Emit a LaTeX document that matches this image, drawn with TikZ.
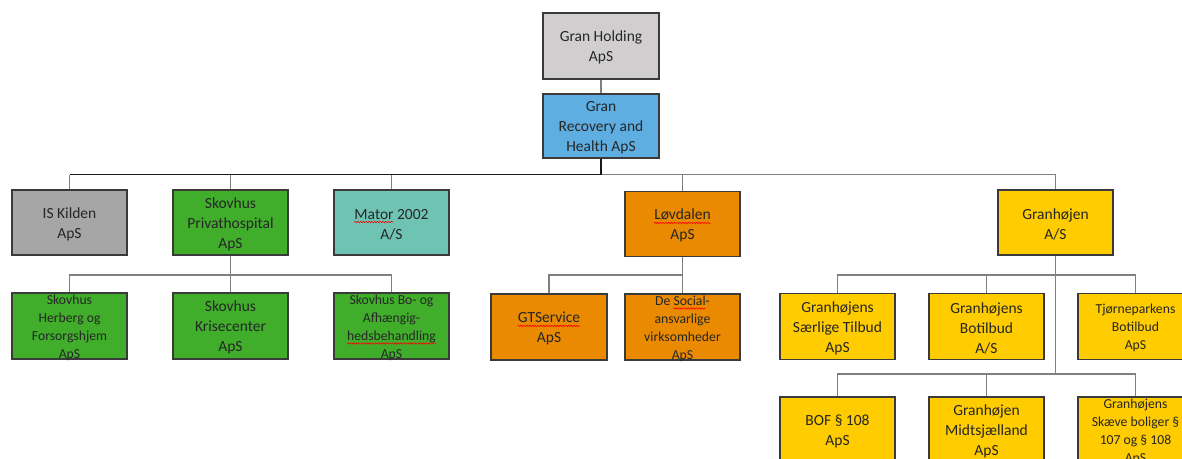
\documentclass[tikz,border=0pt]{standalone}
\usepackage{fontspec}
\setmainfont{Carlito}
\usetikzlibrary{decorations.pathmorphing}
\newlength\sqlen
\newcommand\sq[1]{\settowidth\sqlen{#1}#1\llap{\smash{\raisebox{-3pt}{\tikz[baseline=0pt]\draw[red,line width=0.6pt,decorate,decoration={snake,amplitude=0.7pt,segment length=2.8pt}] (0pt,0pt) -- (\sqlen,0pt);}}}}
\definecolor{cHold}{HTML}{D0CECE}
\definecolor{cBlue}{HTML}{5EAEE2}
\definecolor{cKil}{HTML}{A6A6A6}
\definecolor{cGreen}{HTML}{40AE2B}
\definecolor{cTeal}{HTML}{6EC3B2}
\definecolor{cOrange}{HTML}{E98A00}
\definecolor{cYellow}{HTML}{FFCC00}
\definecolor{bordc}{HTML}{3A3A3A}
\definecolor{txtc}{HTML}{262626}
\definecolor{linec}{HTML}{808080}
\definecolor{darkc}{HTML}{1A1A1A}
\begin{document}
\begin{tikzpicture}[x=1pt,y=-1pt,
  box/.style={draw=bordc, line width=1.1pt, minimum width=115pt, minimum height=65pt, inner sep=0pt},
  big/.style={text=txtc, align=center, font=\fontsize{15.5}{20}\selectfont, inner sep=0pt, yshift=-1.8pt},
  small/.style={text=txtc, align=center, font=\fontsize{13.7}{18}\selectfont, inner sep=0pt, yshift=-1.8pt},
  ln/.style={draw=linec, line width=1.3pt},
  dk/.style={draw=darkc, line width=1.4pt}]
\useasboundingbox (0,0) rectangle (1182,458);
\clip (0,0) rectangle (1182,458);
% top
\node[box, fill=cHold, minimum width=116pt, minimum height=66pt] (hold) at (601,46) {};
\node[big] (hold-t) at (hold) {Gran Holding\\ApS};
\node[box, fill=cBlue, minimum width=116pt, minimum height=64pt] (rec) at (601,126) {};
\node[big] (rec-t) at (rec) {Gran\\Recovery and\\Health ApS};
% row 2
\node[box, fill=cKil] (kil) at (69.5,222.5) {};
\node[big] (kil-t) at (kil) {IS Kilden\\ApS};
\node[box, fill=cGreen] (pri) at (230.5,222.5) {};
\node[big] (pri-t) at (pri) {Skovhus\\Privathospital\\ApS};
\node[box, fill=cTeal] (mat) at (391.5,222.5) {};
\node[big] (mat-t) at (mat) {\sq{Mator} 2002\\A/S};
\node[box, fill=cOrange] (lov) at (682.5,224) {};
\node[big] (lov-t) at (lov) {\sq{Løvdalen}\\ApS};
\node[box, fill=cYellow] (gra) at (1055.5,222.5) {};
\node[big] (gra-t) at (gra) {Granhøjen\\A/S};
% row 3
\node[box, fill=cGreen, minimum height=66pt] (her) at (69.5,326) {};
\node[small] (her-t) at (her) {Skovhus\\Herberg og\\Forsorgshjem\\ApS};
\node[box, fill=cGreen, minimum height=66pt] (kri) at (230.5,326) {};
\node[big] (kri-t) at (kri) {Skovhus\\Krisecenter\\ApS};
\node[box, fill=cGreen, minimum height=66pt] (bo) at (391.5,326) {};
\node[small] (bo-t) at (bo) {Skovhus Bo- og\\Afhængig-\\\sq{hedsbehandling}\\ApS};
\node[box, fill=cOrange, minimum width=116pt, minimum height=66pt] (gts) at (549,327) {};
\node[big] (gts-t) at (gts) {\sq{GTService}\\ApS};
\node[box, fill=cOrange, minimum height=66pt] (soc) at (682.5,327) {};
\node[small] (soc-t) at (soc) {De \sq{Social}-\\ansvarlige\\virksomheder\\ApS};
\node[box, fill=cYellow, minimum height=66pt] (sae) at (837.5,326.5) {};
\node[big] (sae-t) at (sae) {Granhøjens\\Særlige Tilbud\\ApS};
\node[box, fill=cYellow, minimum height=66pt] (bot) at (986.5,326.5) {};
\node[big] (bot-t) at (bot) {Granhøjens\\Botilbud\\A/S};
\node[box, fill=cYellow, minimum height=66pt] (tjo) at (1135.5,326.5) {};
\node[small] (tjo-t) at (tjo) {Tjørneparkens\\Botilbud\\ApS};
% row 4
\node[box, fill=cYellow, minimum height=66pt] (bof) at (837.5,430) {};
\node[big] (bof-t) at (bof) {BOF § 108\\ApS};
\node[box, fill=cYellow, minimum height=66pt] (mid) at (986.5,430) {};
\node[big] (mid-t) at (mid) {Granhøjen\\Midtsjælland\\ApS};
\node[box, fill=cYellow, minimum height=66pt] (ske) at (1135.5,430) {};
\node[small] (ske-t) at (ske) {Granhøjens\\Skæve boliger §\\107 og § 108\\ApS};
% bus coordinates
\coordinate (b0) at (601,174.5);
\coordinate (b1) at (0,275);
\coordinate (b2) at (0,374);
% connectors
\draw[ln] (hold.south) -- (rec.north);
\draw[ln] (kil.north) -- (kil.north |- b0);
\draw[ln] (pri.north) -- (pri.north |- b0);
\draw[ln] (mat.north) -- (mat.north |- b0);
\draw[ln] (lov.north) -- (lov.north |- b0);
\draw[ln] (b0) -| (gra.north);
\draw[dk] (rec.south) |- (kil.north |- b0);
% Skovhus subtree
\draw[ln] (pri.south) -- (kri.north);
\draw[ln] (her.north) |- (bo.north |- b1) -- (bo.north);
% Lovdalen subtree
\draw[ln] (lov.south) -- (soc.north);
\draw[ln] (gts.north) |- (lov.south |- b1);
% Granhojen subtree
\draw[ln] (gra.south) -- (gra.south |- b2);
\draw[ln] (sae.north) |- (tjo.north |- b1) -- (tjo.north);
\draw[ln] (bot.north) -- (bot.north |- b1);
\draw[ln] (bof.north) |- (ske.north |- b2) -- (ske.north);
\draw[ln] (mid.north) -- (mid.north |- b2);
\end{tikzpicture}
\end{document}
